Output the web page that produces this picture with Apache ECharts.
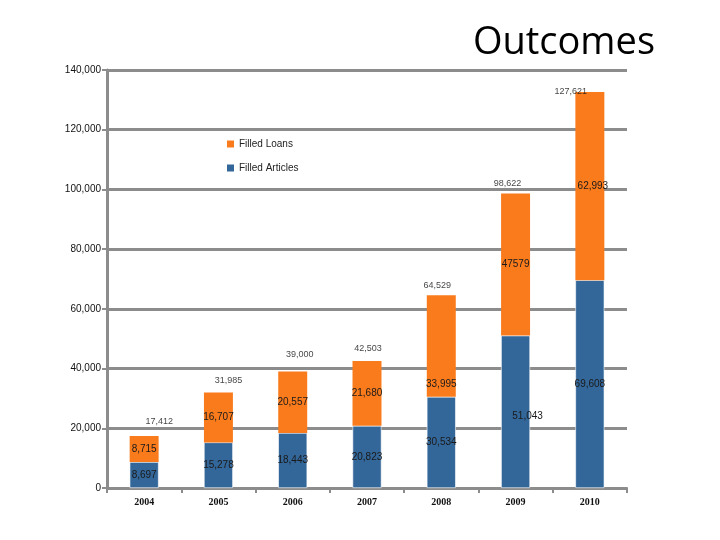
<!DOCTYPE html>
<html><head><meta charset="utf-8">
<script src="https://cdn.jsdelivr.net/npm/echarts@6/dist/echarts.min.js"></script>
<style>html,body{margin:0;padding:0;background:#fff}#c{width:720px;height:540px}</style>
</head><body><div id="c"></div>
<script>
const years = ['2004','2005','2006','2007','2008','2009','2010'];
const filledArticles = [8697, 15278, 18443, 20823, 30534, 51043, 69608];
const filledLoans = [8715, 16707, 20557, 21680, 33995, 47579, 62993];
const loanLabels = ['8,715','16,707','20,557','21,680','33,995','47579','62,993'];
const articleLabels = ['8,697','15,278','18,443','20,823','30,534','51,043','69,608'];
const totalLabelValues = [17412, 31985, 39000, 42503, 64529, 98622, 127621];
const totalLabels = ['17,412','31,985','39,000','42,503','64,529','98,622','127,621'];
const yTicks = [0, 20000, 40000, 60000, 80000, 100000, 120000, 140000];

// label nudges (style only)
const totalNudge = [[15,-5],[10,-2],[7,-8],[1,-3],[-4,0],[-8,-1],[-19,-6]];
const loanNudge = [[0,0],[0,0],[0,0],[0,0],[0,38],[0,0],[3,0]];
const articleNudge = [[0,0],[0,0],[0,0],[0,0],[0,0],[12,4],[0,0]];

const ORANGE = '#FA7B1C', BLUE = '#336699';
const lblFont = {fontFamily:'Liberation Sans', fontSize:10, color:'#1a1a1a'};

const chart = echarts.init(document.getElementById('c'));
chart.setOption({
  animation:false,
  backgroundColor:'#fff',
  title:{text:'Outcomes', right:60, top:19, textStyle:{fontFamily:'Open Sans', fontWeight:'normal', fontSize:38, color:'#000'}},
  legend:{orient:'vertical', left:222, top:134, itemWidth:7, itemHeight:7, itemGap:14, icon:'rect',
    data:['Filled Loans','Filled Articles'],
    itemStyle:{borderWidth:0},
    textStyle:{fontFamily:'Liberation Sans', fontSize:10, color:'#222'}},
  grid:{left:107, right:93, top:70, bottom:52},
  xAxis:{type:'category', data:years,
    axisLine:{lineStyle:{color:'#8c8c8c', width:2}},
    axisTick:{show:true, length:5, lineStyle:{color:'#8c8c8c', width:2}},
    axisLabel:{fontFamily:'Liberation Serif', fontWeight:'bold', fontSize:10, color:'#111', margin:9}},
  yAxis:{type:'value', min:0, max:140000, interval:20000,
    axisLine:{show:true, lineStyle:{color:'#8c8c8c', width:3}},
    axisTick:{show:true, length:5, lineStyle:{color:'#8c8c8c', width:2}},
    splitLine:{lineStyle:{color:'#8c8c8c', width:3}},
    axisLabel:{fontFamily:'Liberation Sans', fontSize:10, color:'#111', margin:6,
      formatter:v=>yTicks.includes(v)?v.toLocaleString('en-US'):''}},
  series:[
    {name:'Filled Articles', type:'bar', stack:'s', barWidth:'39%',
     itemStyle:{color:BLUE, borderColor:'#fff', borderWidth:0.6},
     data:filledArticles.map((v,i)=>({value:v, label:{offset:articleNudge[i]}})),
     label:{show:true, position:'inside', formatter:p=>articleLabels[p.dataIndex], ...lblFont}},
    {name:'Filled Loans', type:'bar', stack:'s', barWidth:'39%',
     itemStyle:{color:ORANGE},
     data:filledLoans.map((v,i)=>({value:v, label:{offset:loanNudge[i]}})),
     label:{show:true, position:'inside', formatter:p=>loanLabels[p.dataIndex], ...lblFont}},
    {name:'Total', type:'scatter', symbolSize:0, silent:true,
     data:totalLabelValues.map((v,i)=>({value:[years[i], v], label:{offset:totalNudge[i]}})),
     label:{show:true, position:'top', distance:5, formatter:p=>totalLabels[p.dataIndex],
       fontFamily:'Liberation Sans', fontSize:9, color:'#111'}}
  ]
});
</script></body></html>
